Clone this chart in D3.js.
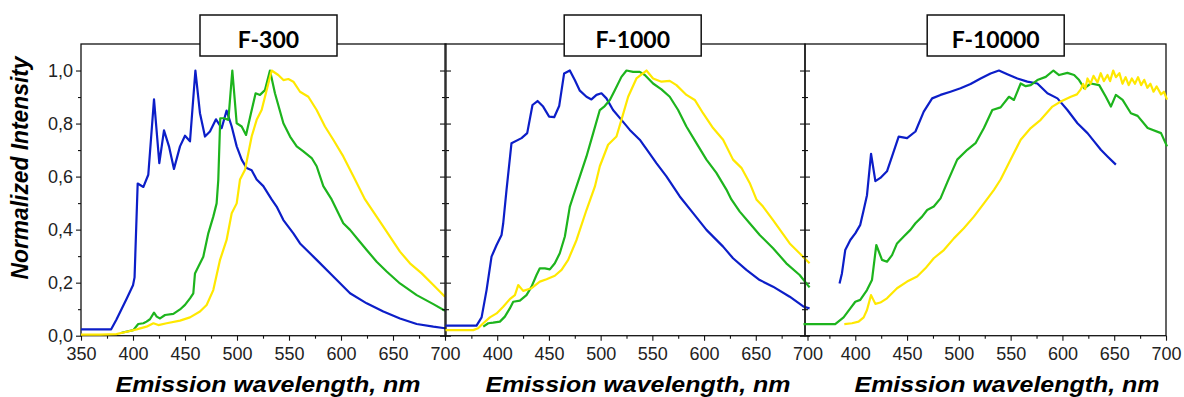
<!DOCTYPE html>
<html>
<head>
<meta charset="utf-8">
<script src="https://cdn.jsdelivr.net/npm/d3@7"></script>
<style>
  body { margin: 0; background: #fff; }
  svg { display: block; }
  .tick text { font-family: "Liberation Sans", Arial, sans-serif; font-size: 18px; fill: #222; }
</style>
</head>
<body>
<div id="chart"></div>
<script>
// Panel titles and axis ticks
const panelTitles = ["F-300", "F-1000", "F-10000"];
const xMajor = [350, 400, 450, 500, 550, 600, 650, 700];
const xMinor = [375, 425, 475, 525, 575, 625, 675];
const yMajor = [0, 0.2, 0.4, 0.6, 0.8, 1.0];
const yMinor = [0.1, 0.3, 0.5, 0.7, 0.9];
const yTickLabels = ["0,0", "0,2", "0,4", "0,6", "0,8", "1,0"];

const blueColor = "#0c1ec8";
const greenColor = "#1db41d";
const yellowColor = "#ffe800";

// F-300 spectra  [wavelength nm, normalized intensity]
const f300Blue = [[350,0.024],[379,0.024],[384,0.06],[394,0.14],[400,0.19],[401.5,0.22],[404.5,0.574],[410,0.561],[414.7,0.607],[420.2,0.891],[425.3,0.651],[429.8,0.774],[434.6,0.714],[439.4,0.629],[445.2,0.714],[450,0.754],[454.8,0.733],[460,1.0],[464.4,0.839],[469.2,0.751],[474,0.77],[479.8,0.816],[485.3,0.783],[490,0.849],[494.9,0.789],[499.7,0.714],[504.5,0.664],[509.3,0.632],[514.1,0.624],[518.9,0.589],[525.3,0.564],[533.3,0.514],[538.1,0.487],[544.6,0.436],[554.2,0.386],[560.6,0.348],[576.6,0.286],[592.6,0.223],[608.7,0.16],[624.7,0.122],[640.7,0.091],[656.7,0.065],[672.8,0.044],[688.8,0.034],[700,0.028]];
const f300Green = [[389,0.011],[400.3,0.021],[405,0.044],[410,0.047],[413,0.053],[416.3,0.062],[420.2,0.087],[422.8,0.072],[426,0.065],[430.8,0.078],[438.8,0.082],[445.2,0.099],[450,0.116],[454.8,0.141],[458,0.16],[459.6,0.235],[462.8,0.26],[467.6,0.298],[472.4,0.386],[477.2,0.449],[480.4,0.499],[482,0.587],[483.9,0.82],[487.5,0.82],[491.7,0.814],[495.5,1.0],[499.7,0.801],[504.5,0.789],[508.7,0.757],[513.1,0.833],[517.9,0.914],[522.1,0.908],[526.9,0.926],[531.7,1.0],[536.5,0.914],[544.6,0.801],[551,0.751],[557.4,0.714],[563.8,0.695],[571.8,0.67],[576.6,0.639],[583,0.564],[591,0.514],[602.2,0.424],[608.7,0.399],[616.7,0.361],[624.7,0.323],[634.3,0.279],[643.9,0.242],[656.7,0.197],[672.8,0.153],[688.8,0.119],[700,0.094]];
const f300Yellow = [[350,0.004],[368,0.004],[384,0.006],[394,0.015],[403.5,0.024],[413,0.034],[419.6,0.047],[424.4,0.04],[432.4,0.047],[445.2,0.057],[454.8,0.069],[464.4,0.091],[470.8,0.116],[477.2,0.172],[483.7,0.286],[490,0.361],[494.9,0.462],[499.7,0.499],[502.9,0.589],[507.7,0.626],[514.1,0.751],[518.9,0.814],[523.7,0.851],[528.5,0.926],[533.3,1.0],[539.7,0.983],[544.6,0.964],[549.4,0.968],[554.2,0.958],[560.6,0.92],[568.6,0.901],[576.6,0.851],[584.6,0.789],[592.6,0.739],[602.2,0.676],[611.9,0.601],[623.1,0.514],[640.7,0.411],[656.7,0.317],[666.3,0.273],[677.6,0.235],[688.8,0.191],[700,0.147]];

// F-1000 spectra
const f1000Blue = [[350,0.038],[380,0.038],[384.9,0.069],[389.7,0.172],[394.5,0.298],[399.4,0.342],[404.2,0.38],[405.8,0.424],[409,0.55],[413.8,0.726],[423.5,0.745],[429,0.764],[434.1,0.87],[439,0.885],[444.4,0.864],[450.2,0.826],[455.1,0.824],[459.9,0.866],[464.7,0.989],[470.2,1.0],[475,0.964],[479.9,0.924],[486.3,0.901],[491.1,0.891],[496,0.908],[500.8,0.914],[505.6,0.895],[512,0.851],[520.1,0.814],[528.2,0.776],[537.8,0.739],[545.9,0.695],[553.9,0.651],[563.6,0.601],[576.5,0.525],[589.4,0.462],[602.3,0.399],[618.4,0.336],[628,0.292],[640.9,0.248],[653.8,0.21],[666.7,0.185],[682.8,0.147],[696.6,0.109],[702,0.103]];
const f1000Green = [[386.5,0.034],[391.3,0.047],[396.1,0.049],[402.6,0.053],[407.4,0.072],[412.2,0.103],[415.5,0.128],[421.9,0.132],[428.3,0.153],[433.2,0.185],[438,0.229],[441.2,0.254],[446.1,0.254],[450.9,0.25],[455.7,0.273],[460.5,0.311],[465.4,0.374],[470.2,0.487],[473.4,0.525],[479.9,0.601],[486.3,0.676],[492.8,0.764],[499.2,0.851],[504,0.866],[508.9,0.889],[513.7,0.926],[520.1,0.976],[525,1.0],[531.4,0.995],[537.8,0.995],[542.7,0.983],[550.7,0.951],[558.8,0.929],[566.8,0.901],[574.9,0.851],[582.9,0.789],[592.6,0.726],[602.3,0.664],[611.9,0.614],[621.6,0.551],[626.4,0.514],[634.5,0.468],[644.1,0.424],[653.8,0.38],[666.7,0.33],[679.5,0.273],[692.4,0.229],[702,0.182]];
const f1000Yellow = [[350,0.021],[376.8,0.021],[381.6,0.028],[386.5,0.047],[392.9,0.069],[399.4,0.084],[405.8,0.109],[412.2,0.138],[417.1,0.153],[420.3,0.191],[425.1,0.169],[433.2,0.179],[441.2,0.204],[447.7,0.213],[455.7,0.226],[462.2,0.248],[468.6,0.286],[476.7,0.361],[486.3,0.474],[494.4,0.562],[499.2,0.639],[507.2,0.72],[515.3,0.751],[520.1,0.814],[526.6,0.901],[534.6,0.97],[544.3,1.0],[550.7,0.97],[558.8,0.958],[566.8,0.961],[573.3,0.945],[583,0.908],[591,0.889],[599,0.839],[608.7,0.783],[618.4,0.739],[628,0.664],[636.1,0.633],[644.1,0.576],[650.6,0.514],[657,0.487],[666.7,0.436],[682.8,0.348],[695.7,0.298],[702,0.273]];

// F-10000 spectra
const f10000Blue = [[384.8,0.197],[387.1,0.235],[390.3,0.323],[395.2,0.361],[400,0.386],[404.8,0.418],[408.1,0.474],[411.3,0.53],[415.2,0.686],[419.4,0.583],[424.2,0.595],[430.6,0.62],[435.5,0.676],[441.9,0.751],[450,0.745],[458.1,0.77],[466.1,0.845],[474.2,0.895],[482.3,0.908],[491.9,0.92],[501.6,0.933],[511.3,0.949],[521,0.97],[530.6,0.989],[538.7,1.0],[546.8,0.986],[556.5,0.97],[566.1,0.958],[575.8,0.951],[585.5,0.914],[595.2,0.895],[604.8,0.851],[614.5,0.801],[624.2,0.764],[630.6,0.733],[637.1,0.701],[643.5,0.676],[651.6,0.645]];
const f10000Green = [[350,0.044],[380.6,0.044],[388.7,0.069],[395.2,0.103],[400,0.128],[404.8,0.135],[411.3,0.172],[416.1,0.21],[420.3,0.342],[425.8,0.286],[430.6,0.279],[435.5,0.304],[440.3,0.348],[446.8,0.374],[453.2,0.399],[458.1,0.424],[464.5,0.449],[469.4,0.474],[475.8,0.487],[482.3,0.518],[489,0.58],[498.4,0.664],[508.1,0.701],[516.1,0.726],[524.2,0.783],[532.3,0.851],[540.3,0.861],[548.4,0.901],[553.2,0.889],[559.7,0.951],[564.5,0.941],[569.4,0.945],[575.8,0.964],[583.9,0.976],[591.3,1.0],[596.8,0.983],[604.8,0.991],[611.3,0.983],[616.1,0.964],[621,0.933],[627.4,0.951],[635.5,0.945],[641.9,0.901],[646.8,0.864],[651.6,0.908],[658.1,0.889],[666.1,0.839],[672.6,0.829],[682.3,0.783],[695.2,0.764],[701,0.714]];
const f10000Yellow = [[389.4,0.044],[396.8,0.047],[403.2,0.053],[408.1,0.069],[411.3,0.097],[415.2,0.153],[419.4,0.12],[424.2,0.125],[430.6,0.141],[440.3,0.179],[450,0.204],[459.7,0.223],[467.7,0.254],[475.8,0.292],[485.5,0.323],[495.2,0.367],[504.8,0.405],[514.5,0.449],[524.2,0.499],[533.9,0.55],[540.3,0.589],[550,0.664],[559.7,0.739],[569.4,0.783],[579,0.814],[590.3,0.864],[598.4,0.883],[608.1,0.901],[614,0.91],[617.7,0.929],[620,0.95],[622,0.93],[624.2,0.97],[627,0.95],[630,0.98],[633.9,0.955],[637,0.99],[640,0.96],[643.5,0.983],[646,0.96],[649,1.0],[651.6,0.975],[655,0.99],[658,0.95],[661,0.975],[664,0.945],[667,0.97],[670,0.95],[673,0.975],[676,0.945],[679,0.965],[682,0.935],[685,0.95],[688,0.92],[691,0.94],[695.2,0.91],[698,0.92],[701,0.89]];

const seriesByPanel = [
    [f300Blue, f300Green, f300Yellow],
    [f1000Blue, f1000Green, f1000Yellow],
    [f10000Blue, f10000Green, f10000Yellow]
];
const seriesColors = [blueColor, greenColor, yellowColor];

// layout (pixels)
const svgWidth = 1184, svgHeight = 397;
const plotTop = 44, plotBottom = 335.7;
const panelRanges = [[81, 445], [445.5, 807.5], [803.5, 1166]];
const frameEdges = [[81, 446], [445, 805], [805, 1166]];
const titleCenters = [268.5, 632.7, 995.7];
const xLabelCenters = [268, 638, 1007];

const svg = d3.select("#chart")
    .append("svg")
    .attr("width", svgWidth)
    .attr("height", svgHeight);

const y = d3.scaleLinear().domain([0, 1.1]).range([plotBottom, plotTop]);

const line = (x) => d3.line()
    .x(d => x(d[0]))
    .y(d => y(d[1]));

panelTitles.forEach((title, i) => {
    const x = d3.scaleLinear().domain([350, 700]).range(panelRanges[i]);
    const [fl, fr] = frameEdges[i];
    const g = svg.append("g");

    // bottom ticks
    const xMajorAxis = d3.axisBottom(x)
        .tickValues(i === 0 ? xMajor : xMajor.slice(1))
        .tickSize(5).tickSizeOuter(0).tickPadding(7)
        .tickFormat(d3.format("d"));
    g.append("g").attr("transform", `translate(0,${plotBottom})`).call(xMajorAxis)
        .call(a => a.select(".domain").remove());
    g.append("g").attr("transform", `translate(0,${plotBottom})`)
        .call(d3.axisBottom(x).tickValues(xMinor).tickSize(3).tickFormat(""))
        .call(a => a.select(".domain").remove());

    // left ticks
    const yLeft = d3.axisLeft(y).tickValues(yMajor).tickSize(5).tickPadding(3)
        .tickFormat((d, k) => i === 0 ? yTickLabels[k] : "");
    g.append("g").attr("transform", `translate(${fl},0)`).call(yLeft)
        .call(a => a.select(".domain").remove());
    g.append("g").attr("transform", `translate(${fl},0)`)
        .call(d3.axisLeft(y).tickValues(yMinor).tickSize(3).tickFormat(""))
        .call(a => a.select(".domain").remove());

    // right ticks on the first two panels
    if (i < 2) {
        g.append("g").attr("transform", `translate(${fr},0)`)
            .call(d3.axisRight(y).tickValues(yMajor).tickSize(5).tickFormat(""))
            .call(a => a.select(".domain").remove());
        g.append("g").attr("transform", `translate(${fr},0)`)
            .call(d3.axisRight(y).tickValues(yMinor).tickSize(3).tickFormat(""))
            .call(a => a.select(".domain").remove());
    }

    g.selectAll(".tick line").attr("stroke", "#111").attr("stroke-width", 1.1);

    // frame
    g.append("rect")
        .attr("x", fl).attr("y", plotTop)
        .attr("width", fr - fl).attr("height", plotBottom - plotTop)
        .attr("fill", "none").attr("stroke", "#111").attr("stroke-width", 1.3);

    // spectra
    g.selectAll(".spec")
        .data(seriesByPanel[i])
        .enter()
        .append("path")
        .attr("class", "spec")
        .attr("d", line(x))
        .attr("fill", "none")
        .attr("stroke", (d, k) => seriesColors[k])
        .attr("stroke-width", 2.2)
        .attr("stroke-linejoin", "round");

    // title box
    const boxW = 137, boxH = 41;
    g.append("rect")
        .attr("x", titleCenters[i] - boxW / 2).attr("y", 15)
        .attr("width", boxW).attr("height", boxH)
        .attr("fill", "#fff").attr("stroke", "#111").attr("stroke-width", 1.5);
    g.append("text")
        .attr("x", titleCenters[i]).attr("y", 48)
        .attr("text-anchor", "middle")
        .style("font-family", "Lato, 'Open Sans', sans-serif")
        .style("font-weight", "bold")
        .style("font-size", "23px")
        .text(title);

    // x axis label
    g.append("text")
        .attr("x", xLabelCenters[i]).attr("y", 392)
        .attr("text-anchor", "middle")
        .attr("textLength", 305)
        .attr("lengthAdjust", "spacingAndGlyphs")
        .style("font-family", "'Liberation Sans', Arial, sans-serif")
        .style("font-weight", "bold")
        .style("font-style", "italic")
        .style("font-size", "22px")
        .text("Emission wavelength, nm");
});

svg.append("text")
    .attr("transform", "translate(28,168) rotate(-90)")
    .attr("text-anchor", "middle")
    .attr("textLength", 223)
    .attr("lengthAdjust", "spacingAndGlyphs")
    .style("font-family", "'Liberation Sans', Arial, sans-serif")
    .style("font-weight", "bold")
    .style("font-style", "italic")
    .style("font-size", "23px")
    .text("Normalized Intensity");
</script>
</body>
</html>
